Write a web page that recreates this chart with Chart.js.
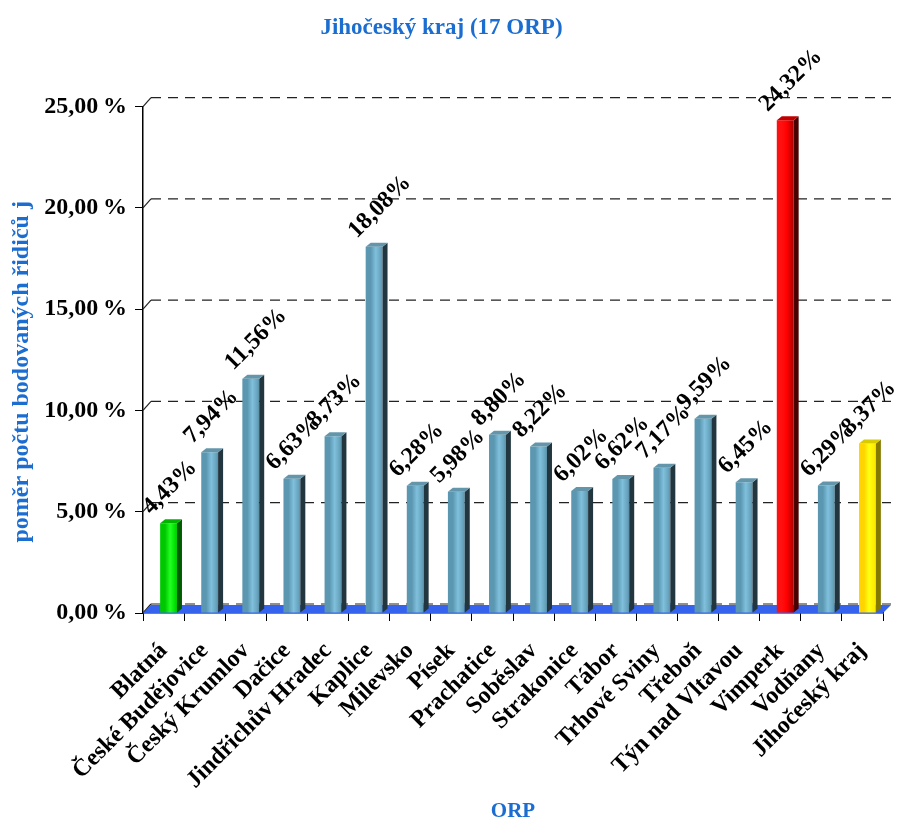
<!DOCTYPE html>
<html>
<head>
<meta charset="utf-8">
<script src="https://cdn.jsdelivr.net/npm/chart.js@4/dist/chart.umd.min.js"></script>
<style>
  html, body { margin: 0; padding: 0; background: #fff; }
  #wrap { width: 904px; height: 822px; }
</style>
</head>
<body>
<div id="wrap"><canvas id="chart"></canvas></div>
<script>
const categories = ['Blatná', 'České Budějovice', 'Český Krumlov', 'Dačice', 'Jindřichův Hradec',
  'Kaplice', 'Milevsko', 'Písek', 'Prachatice', 'Soběslav', 'Strakonice', 'Tábor',
  'Trhové Sviny', 'Třeboň', 'Týn nad Vltavou', 'Vimperk', 'Vodňany', 'Jihočeský kraj'];
const values = [4.43, 7.94, 11.56, 6.63, 8.73, 18.08, 6.28, 5.98, 8.80, 8.22, 6.02, 6.62,
  7.17, 9.59, 6.45, 24.32, 6.29, 8.37];
const yTicks = [0, 5, 10, 15, 20, 25];
// which bars are not the default blue
const highlight = { 'Blatná': 'green', 'Vimperk': 'red', 'Jihočeský kraj': 'yellow' };

const palettes = {
  blue:   { front: ['#5b97b1', '#80c0dc', '#66a2bc', '#34586a'], side: '#22363f', top: '#6496ab' },
  green:  { front: ['#00c800', '#22ff22', '#00dd00', '#009a00'], side: '#005c00', top: '#00b400' },
  red:    { front: ['#ff1010', '#ff0000', '#c00000', '#6a0000'], side: '#4a0000', top: '#c00000' },
  yellow: { front: ['#ffd400', '#ffff10', '#ffee00', '#ffc400'], side: '#857a00', top: '#d8cc00' }
};

const blueTitle = '#1c6dd0';
const serif = '"Liberation Serif", "DejaVu Serif", serif';
const DX = 8, DY = -9;        // depth of the back wall
const BDX = 5, BDY = -4;      // depth of each bar
const SHIFT = 5;              // bars sit a bit right of the category centre
const barPct = 0.41;

const fmt = v => v.toFixed(2).replace('.', ',') + '%';
const pal = i => palettes[highlight[categories[i]] || 'blue'];

function frontColor(c) {
  const chart = c.chart;
  const xs = chart.scales.x;
  const p = pal(c.dataIndex);
  if (!xs || !chart.chartArea) return p.front[1];
  const cx = xs.getPixelForValue(c.dataIndex) + SHIFT;
  const w = xs.width / categories.length * barPct;
  const g = chart.ctx.createLinearGradient(cx - w / 2, 0, cx + w / 2, 0);
  g.addColorStop(0, p.front[0]);
  g.addColorStop(0.3, p.front[1]);
  g.addColorStop(0.6, p.front[2]);
  g.addColorStop(1, p.front[3]);
  return g;
}

const depthPlugin = {
  id: 'depth',
  beforeDatasetsDraw(chart) {
    const ctx = chart.ctx;
    const { left, right } = chart.chartArea;
    const y = chart.scales.y;
    ctx.save();
    // dashed back-wall grid
    ctx.strokeStyle = '#222';
    ctx.lineWidth = 1.2;
    yTicks.forEach(t => {
      const py = y.getPixelForValue(t);
      ctx.setLineDash([]);
      ctx.beginPath();
      ctx.moveTo(left, py);
      ctx.lineTo(left + DX, py + DY);
      ctx.stroke();
      ctx.setLineDash([10, 7]);
      ctx.beginPath();
      ctx.moveTo(left + DX, py + DY);
      ctx.lineTo(right + DX, py + DY);
      ctx.stroke();
    });
    ctx.setLineDash([]);
    // blue floor
    const y0 = y.getPixelForValue(0);
    ctx.fillStyle = '#3563ee';
    ctx.beginPath();
    ctx.moveTo(left, y0);
    ctx.lineTo(right, y0);
    ctx.lineTo(right + DX, y0 + DY + 1);
    ctx.lineTo(left + DX, y0 + DY + 1);
    ctx.closePath();
    ctx.fill();
    ctx.restore();
    ctx.save();
    ctx.translate(SHIFT, 0);
  },
  afterDatasetsDraw(chart) {
    const ctx = chart.ctx;
    const meta = chart.getDatasetMeta(0);
    meta.data.forEach((el, i) => {
      const p = pal(i);
      const l = el.x - el.width / 2, r = el.x + el.width / 2;
      ctx.fillStyle = p.side;
      ctx.beginPath();
      ctx.moveTo(r, el.y);
      ctx.lineTo(r + BDX, el.y + BDY);
      ctx.lineTo(r + BDX, el.base + BDY);
      ctx.lineTo(r, el.base);
      ctx.closePath();
      ctx.fill();
      ctx.fillStyle = p.top;
      ctx.beginPath();
      ctx.moveTo(l, el.y);
      ctx.lineTo(l + BDX, el.y + BDY);
      ctx.lineTo(r + BDX, el.y + BDY);
      ctx.lineTo(r, el.y);
      ctx.closePath();
      ctx.fill();
    });
    // rotated value labels
    ctx.fillStyle = '#000';
    ctx.font = 'bold 24px ' + serif;
    ctx.textAlign = 'left';
    ctx.textBaseline = 'alphabetic';
    meta.data.forEach((el, i) => {
      ctx.save();
      ctx.translate(el.x - el.width / 2 - 9, el.y - 8);
      ctx.rotate(-Math.PI / 4);
      ctx.fillText(fmt(values[i]), 0, 0);
      ctx.restore();
    });
    ctx.restore();
  }
};

new Chart(document.getElementById('chart'), {
  type: 'bar',
  data: {
    labels: categories,
    datasets: [{
      data: values,
      backgroundColor: frontColor,
      borderWidth: 0,
      barPercentage: barPct,
      categoryPercentage: 1
    }]
  },
  options: {
    responsive: true,
    maintainAspectRatio: false,
    animation: false,
    layout: { padding: { left: 0, right: 21, top: 0, bottom: 0 } },
    plugins: {
      legend: { display: false },
      tooltip: { enabled: false },
      title: {
        display: true,
        text: 'Jihočeský kraj (17 ORP)',
        color: blueTitle,
        font: { family: serif, size: 23, weight: 'bold', lineHeight: 1.2 },
        padding: { top: 14, bottom: 65 }
      }
    },
    scales: {
      x: {
        afterFit: s => { s.height = 209; },
        border: { color: '#000', width: 1.5 },
        grid: { display: true, drawOnChartArea: false, color: '#000', tickLength: 8, offset: true },
        ticks: {
          color: '#000',
          font: { family: serif, size: 24, weight: 'bold' },
          maxRotation: 45, minRotation: 45,
          autoSkip: false,
          padding: 16
        },
        title: {
          display: true, text: 'ORP', color: blueTitle,
          font: { family: serif, size: 21, weight: 'bold', lineHeight: 1 },
          padding: { top: 0, bottom: 0 }
        }
      },
      y: {
        min: 0, max: 25,
        afterFit: s => { s.width = 143; },
        afterBuildTicks: s => { s.ticks = yTicks.map(v => ({ value: v })); },
        border: { color: '#000', width: 1.5 },
        grid: { display: true, drawOnChartArea: false, color: '#000', tickLength: 8 },
        ticks: {
          color: '#000',
          font: { family: serif, size: 24, weight: 'bold' },
          padding: 8,
          callback: v => v.toFixed(2).replace('.', ',') + '\u2009%'
        },
        title: {
          display: true, text: 'poměr počtu bodovaných řidičů j\u00a0\u00a0\u00a0\u00a0', color: blueTitle,
          font: { family: serif, size: 24, weight: 'bold' },
          padding: { top: 7, bottom: 0 }
        }
      }
    }
  },
  plugins: [depthPlugin]
});
</script>
</body>
</html>
